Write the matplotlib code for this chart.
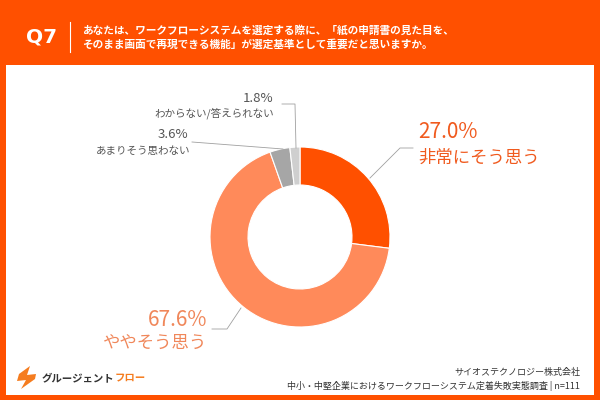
import matplotlib
matplotlib.use("Agg")
import matplotlib.pyplot as plt
from matplotlib.patches import Rectangle, Polygon

plt.rcParams['font.family'] = ['Noto Sans CJK JP', 'DejaVu Sans']

# answers, clockwise from 12 o'clock
labels = ["非常にそう思う", "ややそう思う", "あまりそう思わない", "わからない/答えられない"]
shares = [27.0, 67.6, 3.6, 1.8]
colors = ["#ff5000", "#ff8a5a", "#a6a6a6", "#cfcfcf"]

title_q = "Q7"
question = ("あなたは、ワークフローシステムを選定する際に、「紙の申請書の見た目を、\n"
            "そのまま画面で再現できる機能」が選定基準として重要だと思いますか。")
source = ["サイオステクノロジー株式会社",
          "中小・中堅企業におけるワークフローシステム定着失敗実態調査 | n=111"]

ORANGE = "#ff5000"
H = 400


def Y(y):
    # pixel row (top = 0) -> data y
    return H - y


fig = plt.figure(figsize=(6, 4), dpi=100)
fig.patch.set_facecolor(ORANGE)
ax = fig.add_axes([0, 0, 1, 1])
ax.set_xlim(0, 600)
ax.set_ylim(0, 400)
ax.set_aspect("equal")
ax.axis("off")

# white panel
ax.add_patch(Rectangle((6, Y(395)), 588, 330, facecolor="white", edgecolor="none", zorder=0))

# header
ax.text(42, Y(37), title_q, color="white", fontsize=14.5, fontweight="bold",
        ha="center", va="center", family=["DejaVu Sans"])
ax.plot([70, 70], [Y(22), Y(52)], color="white", lw=0.8)
ax.text(82, Y(37), question, color="white", fontsize=7.7, fontweight="bold",
        ha="left", va="center", linespacing=1.4)

# donut
cx, cy, r = 300, Y(237), 90
ax.pie(shares, colors=colors, startangle=90, counterclock=False,
       center=(cx, cy), radius=r, frame=True,
       wedgeprops=dict(width=38, edgecolor="white", linewidth=0.8))
ax.set_xlim(0, 600)
ax.set_ylim(0, 400)
ax.axis("off")

line_kw = dict(color="#a0a0a0", lw=0.6)

# 27.0%
ax.plot([370, 400, 413], [Y(178), Y(148), Y(148)], **line_kw)
ax.text(418, Y(132), f"{shares[0]:.1f}%", color="#f05a1e", fontsize=15, ha="left", va="center")
ax.text(418, Y(158), labels[0], color="#f05a1e", fontsize=12.5, ha="left", va="center")

# 67.6%
ax.plot([241, 227, 212], [Y(308), Y(329), Y(329)], **line_kw)
ax.text(207, Y(320), f"{shares[1]:.1f}%", color="#f0875a", fontsize=15, ha="right", va="center")
ax.text(207, Y(343), labels[1], color="#f0875a", fontsize=12.5, ha="right", va="center")

# 3.6%
ax.plot([192, 283], [Y(142), Y(149)], **line_kw)
ax.text(188, Y(135), f"{shares[2]:.1f}%", color="#555555", fontsize=9.5, ha="right", va="center")
ax.text(190, Y(151), labels[2], color="#555555", fontsize=7.6, ha="right", va="center")

# 1.8%
ax.plot([282, 295, 296], [Y(104), Y(104), Y(148)], **line_kw)
ax.text(273, Y(98), f"{shares[3]:.1f}%", color="#555555", fontsize=9.5, ha="right", va="center")
ax.text(274, Y(113), labels[3], color="#555555", fontsize=7.6, ha="right", va="center")

# logo
bolt = [(30, Y(366)), (19, Y(374)), (17, Y(381)), (26, Y(380)), (21, Y(389)),
        (35, Y(379)), (36, Y(374)), (27, Y(375))]
ax.add_patch(Polygon(bolt, closed=True, facecolor="#f57c1f", edgecolor="none"))
t = ax.text(42, Y(378), "グルージェント", color="#333333", fontsize=7.5,
            fontweight="bold", ha="left", va="center")
fig.canvas.draw()
bb = t.get_window_extent()
ax.text(bb.x1, Y(378), "フロー", color="#f57c1f", fontsize=7.5,
        fontweight="bold", ha="left", va="center")

# source
ax.text(580, Y(372), source[0], color="#333333", fontsize=6.5, ha="right", va="center")
ax.text(580, Y(386), source[1], color="#333333", fontsize=6.5, ha="right", va="center")

fig.savefig("out.png", dpi=100, facecolor=ORANGE)
